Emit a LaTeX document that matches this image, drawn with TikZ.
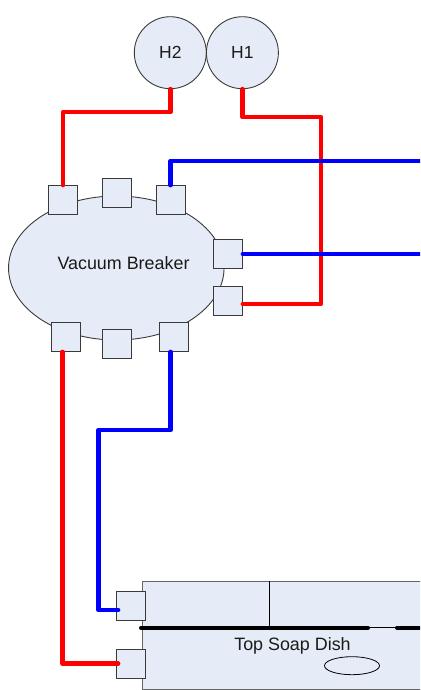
\documentclass[tikz,border=0pt]{standalone}
\usepackage{fontspec}
\setmainfont{Liberation Sans}
\usepackage{tikz}
\usetikzlibrary{shapes.geometric,calc}
\definecolor{partfill}{HTML}{E6ECF7}
\definecolor{partedge}{HTML}{3A3A3A}
\definecolor{dishedge}{HTML}{666666}
\definecolor{lbltext}{HTML}{1A1A1A}
\begin{document}
\begin{tikzpicture}[x=1pt,y=-1pt,
  part/.style={draw=partedge,fill=partfill,line width=0.9pt},
  port/.style={part,rectangle,minimum size=29pt,inner sep=0pt},
  heater/.style={part,circle,minimum size=72pt,inner sep=0pt,text=lbltext,font=\fontsize{17.5}{20}\selectfont},
  lbl/.style={text=lbltext,inner sep=0pt,font=\fontsize{17.9}{20}\selectfont},
  hot/.style={draw=red,line width=4.6pt,line join=round,line cap=round},
  cold/.style={draw=blue,line width=4.6pt,line join=round,line cap=round}]
  \useasboundingbox (0,0) rectangle (420,690);
  \clip (0,0) rectangle (420,690);
  % soap dish
  \node[rectangle,draw=dishedge,fill=partfill,line width=1.1pt,minimum width=300pt,minimum height=107.7pt,inner sep=0pt,anchor=north west] (dish) at (141.7,581) {};
  \coordinate (barA) at (141,627.7);
  \coordinate (barB) at (368,627.7);
  \coordinate (barC) at (397,627.7);
  \coordinate (barD) at (425,627.7);
  \coordinate (divT) at (269.3,581);
  \coordinate (divB) at (269.3,627.7);
  \draw[black,line width=0.9pt] (divT) -- (divB);
  \draw[black,line width=0.9pt] (barB) -- (barC);
  \draw[black,line width=4pt,line cap=round] (barA) -- (barB);
  \draw[black,line width=4pt,line cap=round] (barC) -- (barD);
  \node[lbl] (dishtxt) at (292.5,646) {Top Soap Dish};
  \node[ellipse,draw=black,line width=0.8pt,fill=partfill,minimum width=55pt,minimum height=18pt,inner sep=0pt] (drain) at (352,665.7) {};
  % vacuum breaker
  \node[part,ellipse,minimum width=215.5pt,minimum height=144pt,inner sep=0pt] (vb) at (116.3,268) {};
  \node[lbl] (vbtxt) at (123.5,263.5) {Vacuum Breaker};
  \node[heater] (h2) at (170.3,52.7) {H2};
  \node[heater] (h1) at (242.4,52.7) {H1};
  \node[port] (pa) at (63,200) {};
  \node[port] (pb) at (116.5,193) {};
  \node[port] (pc) at (170.5,200) {};
  \node[port] (pd) at (228,254) {};
  \node[port] (pe) at (228,300.7) {};
  \node[port] (pf) at (66,337) {};
  \node[port] (pg) at (116.5,344) {};
  \node[port] (ph) at (174,337) {};
  \node[port] (sa) at (131,606) {};
  \node[port] (sb) at (131,663.7) {};
  \coordinate (outA) at (425,161);
  \coordinate (outB) at (425,254);
  % hot lines
  \draw[hot] (h2.south) -- (170.3,112) -- (63,112) -- (pa.north);
  \draw[hot] (h1.south) -- (242.4,117) -- (321,117) -- (321,304) -- ([yshift=-3.3pt]pe.east);
  \draw[hot] ([xshift=-3.5pt]pf.south) -- (62.5,663.7) -- ([xshift=2pt]sb.west);
  % cold lines
  \draw[cold] (pc.north) -- (outA -| pc.north) -- (outA);
  \draw[cold] (pd.east) -- (outB);
  \draw[cold] ([xshift=-3.3pt]ph.south) -- (170.7,430) -- (98.7,430) -- (98.7,610) -- ([xshift=2pt,yshift=-4pt]sa.west);
\end{tikzpicture}
\end{document}
